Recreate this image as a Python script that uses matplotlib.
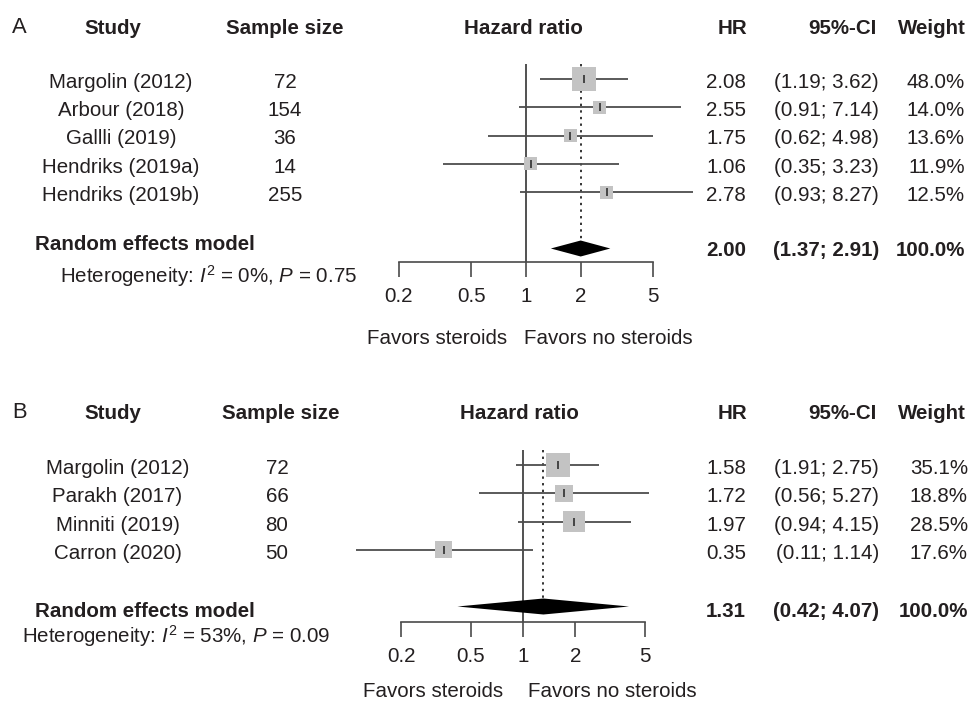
import matplotlib
matplotlib.use('Agg')
import matplotlib.pyplot as plt
import numpy as np

plt.rcParams['font.family'] = ['Liberation Sans', 'DejaVu Sans']
plt.rcParams['mathtext.fontset'] = 'custom'
plt.rcParams['mathtext.rm'] = 'Liberation Sans'
plt.rcParams['mathtext.it'] = 'Liberation Sans:italic'

# panel A data
studies_a = ['Margolin (2012)', 'Arbour (2018)', 'Gallli (2019)', 'Hendriks (2019a)', 'Hendriks (2019b)']
n_a = [72, 154, 36, 14, 255]
hr_a = [2.08, 2.55, 1.75, 1.06, 2.78]
lo_a = [1.19, 0.91, 0.62, 0.35, 0.93]
hi_a = [3.62, 7.14, 4.98, 3.23, 8.27]
ci_text_a = ['(1.19; 3.62)', '(0.91; 7.14)', '(0.62; 4.98)', '(0.35; 3.23)', '(0.93; 8.27)']
w_a = [48.0, 14.0, 13.6, 11.9, 12.5]
pooled_a = [2.00, 1.37, 2.91]
het_a = r'Heterogeneity: $I^2$ = 0%, $P$ = 0.75'

# panel B data
studies_b = ['Margolin (2012)', 'Parakh (2017)', 'Minniti (2019)', 'Carron (2020)']
n_b = [72, 66, 80, 50]
hr_b = [1.58, 1.72, 1.97, 0.35]
lo_b = [0.91, 0.56, 0.94, 0.11]
hi_b = [2.75, 5.27, 4.15, 1.14]
ci_text_b = ['(1.91; 2.75)', '(0.56; 5.27)', '(0.94; 4.15)', '(0.11; 1.14)']
w_b = [35.1, 18.8, 28.5, 17.6]
pooled_b = [1.31, 0.42, 4.07]
het_b = r'Heterogeneity: $I^2$ = 53%, $P$ = 0.09'

ticks = [0.2, 0.5, 1, 2, 5]
tick_labels = ['0.2', '0.5', '1', '2', '5']

W, H = 970, 703
FS = 14.8
TXT = '#231f20'

fig = plt.figure(figsize=(W / 100, H / 100), dpi=100)


def put(x, y, s, ha='left', bold=False, size=FS):
    fig.text(x / W, 1 - y / H, s, ha=ha, va='baseline', fontsize=size,
             fontweight='bold' if bold else 'normal', color=TXT)


def panel(letter, top, studies, n, hr, lo, hi, ci_text, w, pooled, het, lay):
    # header row
    put(12, top + 33, letter, size=FS + 1)
    put(113, top + 34, 'Study', ha='center', bold=True)
    put(lay['n_head'], top + 34, 'Sample size', ha='center', bold=True)
    put(lay['hr_head'], top + 34, 'Hazard ratio', ha='center', bold=True)
    put(747, top + 34, 'HR', ha='right', bold=True)
    put(877, top + 34, '95%-CI', ha='right', bold=True)
    put(966, top + 34, 'Weight', ha='right', bold=True)

    row0, sp = lay['row0'], lay['sp']
    for i in range(len(studies)):
        yb = row0 + i * sp + 9
        put(lay['name_c'], yb, studies[i], ha='center')
        put(lay['n_c'], yb, str(n[i]), ha='center')
        put(746, yb, '%.2f' % hr[i], ha='right')
        put(879, yb, ci_text[i], ha='right')
        put(lay['w_r'], yb, '%.1f%%' % w[i], ha='right')

    put(35, lay['re_y'], 'Random effects model', bold=True)
    put(746, lay['re_val_y'], '%.2f' % pooled[0], ha='right', bold=True)
    put(879, lay['re_val_y'], '(%.2f; %.2f)' % (pooled[1], pooled[2]), ha='right', bold=True)
    put(lay['w_r'], lay['re_val_y'], '100.0%', ha='right', bold=True)
    put(lay['het_x'], lay['het_y'], het)
    put(lay['fav_l'], lay['fav_y'], 'Favors steroids', ha='right')
    put(lay['fav_r'], lay['fav_y'], 'Favors no steroids')

    # forest axes: x in log scale, y in row units
    x1, ppd = lay['x1'], lay['ppd']
    left_px, right_px = x1 - ppd, x1 + ppd
    ax_top, ax_bot = lay['ax_top'], lay['ax_bot']
    ax = fig.add_axes([left_px / W, 1 - ax_bot / H, (right_px - left_px) / W, (ax_bot - ax_top) / H])
    ax.set_xscale('log')
    ax.set_xlim(0.1, 10)
    ax.set_ylim((ax_bot - row0) / sp, (ax_top - row0) / sp)
    ax.patch.set_alpha(0)
    for s in ['top', 'left', 'right']:
        ax.spines[s].set_visible(False)
    ax.spines['bottom'].set_bounds(0.2, 5)
    ax.spines['bottom'].set_color('#4a4a4a')
    ax.spines['bottom'].set_linewidth(1.2)
    ax.set_yticks([])
    ax.set_xticks(ticks)
    ax.set_xticklabels(tick_labels)
    ax.minorticks_off()
    ax.tick_params(axis='x', direction='out', length=10.8, width=1.2, color='#4a4a4a',
                   pad=lay['pad'], labelsize=FS, labelcolor=TXT)

    ax.axvline(1, color='#333333', lw=1.2, zorder=1)
    d_row = lay['d_row']
    dh = 8 / sp
    ax.plot([pooled[0], pooled[0]], [(ax_top - row0) / sp, d_row - dh], color='#333333',
            lw=1.4, ls=(0, (1.2, 2.2)), zorder=1)

    rows = np.arange(len(studies))
    ax.hlines(rows, lo, hi, color='#4d4d4d', lw=1.3, zorder=2)
    side = 24 * np.sqrt(np.array(w) / max(w)) * 0.72
    side = np.maximum(side, 13 * 0.72)
    ax.scatter(hr, rows, marker='s', s=side ** 2, color='#c3c3c3', edgecolors='none', zorder=3)
    ax.scatter(hr, rows, marker='|', s=30, color='#222222', linewidths=1.1, zorder=4)

    dx = [pooled[1], pooled[0], pooled[2], pooled[0]]
    dy = [d_row, d_row - dh, d_row, d_row + dh]
    ax.fill(dx, dy, color='black', zorder=3, lw=0)


panel('A', 0, studies_a, n_a, hr_a, lo_a, hi_a, ci_text_a, w_a, pooled_a, het_a,
      dict(n_head=285, hr_head=523.5, row0=79, sp=28.25, name_c=121, n_c=285, w_r=965,
           re_y=250, re_val_y=256, het_x=60, het_y=283, fav_l=507, fav_r=524, fav_y=344,
           x1=526, ppd=181.7, ax_top=64, ax_bot=262, d_row=6, pad=7))

panel('B', 385, studies_b, n_b, hr_b, lo_b, hi_b, ci_text_b, w_b, pooled_b, het_b,
      dict(n_head=281, hr_head=519.5, row0=465, sp=28.3, name_c=117.5, n_c=277, w_r=968,
           re_y=617, re_val_y=617, het_x=22, het_y=643, fav_l=503, fav_r=528, fav_y=697,
           x1=523, ppd=174, ax_top=450, ax_bot=622, d_row=5, pad=7))

fig.savefig('out.png', dpi=100)
